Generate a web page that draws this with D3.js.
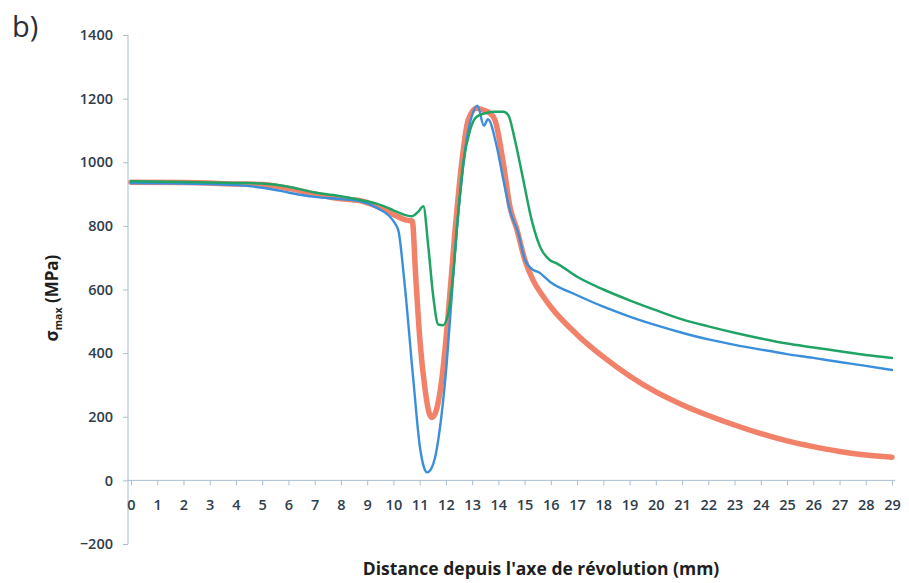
<!DOCTYPE html>
<html>
<head>
<meta charset="utf-8">
<script src="https://cdn.jsdelivr.net/npm/d3@7"></script>
<style>
  html, body { margin: 0; padding: 0; background: #fff; }
  svg { display: block; }
  text { font-family: "Open Sans", "DejaVu Sans", sans-serif; }
</style>
</head>
<body>
<svg id="chart" width="909" height="583"></svg>
<script>
// ---- data ----
const xTicks = d3.range(0, 30);                 // 0 .. 29
const yTicks = [-200, 0, 200, 400, 600, 800, 1000, 1200, 1400];

const redX = [0, 2, 4, 5, 6, 7, 8, 8.7, 9.36, 10.0, 10.5, 10.72, 10.85, 11.01, 11.2, 11.35, 11.46, 11.6, 11.84, 12.09, 12.35, 12.6, 12.85, 13.17, 13.43, 13.68, 13.87, 14.19, 14.44, 14.7, 15.02, 15.33, 15.71, 16, 17, 18, 19, 20, 21, 22, 23, 24, 25, 26, 27, 28, 29];
const redY = [937, 936, 932, 930, 918, 900, 885, 880, 862, 836, 818, 815, 640, 440, 290, 215, 198, 212, 315, 524, 786, 996, 1133, 1170, 1164, 1154, 1133, 996, 860, 790, 690, 628, 578, 545, 458, 388, 328, 278, 238, 204, 174, 147, 124, 106, 91, 80, 73];

const blueX = [0, 2, 4, 5, 6, 6.5, 7, 8, 8.7, 9.36, 10.0, 10.19, 10.4, 10.76, 11.01, 11.15, 11.29, 11.45, 11.59, 11.84, 12.03, 12.22, 12.41, 12.6, 12.79, 12.98, 13.2, 13.45, 13.6, 13.94, 14.19, 14.44, 14.76, 15.02, 15.33, 15.52, 16, 17, 18, 19, 20, 21, 22, 23, 24, 25, 26, 27, 28, 29];
const blueY = [935, 933, 928, 920, 905, 897, 891, 884, 878, 857, 815, 785, 640, 315, 105, 45, 25, 38, 73, 210, 367, 577, 786, 944, 1070, 1143, 1178, 1115, 1135, 1049, 944, 849, 776, 692, 661, 655, 622, 582, 546, 515, 488, 464, 443, 426, 411, 397, 385, 372, 360, 347];

const greenX = [0, 2, 4, 5, 6, 7, 7.7, 8.7, 9.36, 10.0, 10.25, 10.7, 10.95, 11.14, 11.33, 11.52, 11.71, 11.9, 12.09, 12.28, 12.47, 12.66, 12.92, 13.17, 13.49, 13.81, 14.19, 14.38, 14.63, 14.95, 15.27, 15.59, 15.97, 16.22, 17, 18, 19, 20, 21, 22, 23, 24, 25, 26, 27, 28, 29];
const greenY = [940, 938, 935, 933, 923, 905, 897, 882, 870, 849, 840, 830, 845, 862, 734, 577, 490, 488, 525, 651, 840, 996, 1101, 1143, 1154, 1159, 1159, 1148, 1070, 944, 818, 734, 692, 682, 640, 600, 566, 535, 506, 484, 464, 446, 430, 418, 406, 394, 385];

const seriesList = [
  { name: "red",   xs: redX,   ys: redY,   color: "#f06f55", width: 5.5, opacity: 0.88 },
  { name: "blue",  xs: blueX,  ys: blueY,  color: "#3a8fdc", width: 2.4, opacity: 1 },
  { name: "green", xs: greenX, ys: greenY, color: "#1fa465", width: 2.5, opacity: 1 }
];

// ---- layout ----
const svg = d3.select("#chart");
const x = d3.scaleLinear().domain([0, 29]).range([131, 892]);
const y = d3.scaleLinear().domain([-200, 1400]).range([544, 35]);
const axisColor = "#a9bdd1";
const tickText = "#2f3d4b";

// y axis
const yAxisG = svg.append("g").attr("transform", "translate(128,0)")
  .call(d3.axisLeft(y).tickValues(yTicks).tickSize(5).tickPadding(10).tickFormat(d3.format("d")));
yAxisG.select(".domain").attr("stroke", axisColor).attr("d", `M0,${y(1400)}V${y(-200)}`);
yAxisG.selectAll(".tick line").attr("stroke", axisColor);
yAxisG.selectAll(".tick text")
  .attr("fill", tickText).style("font-size", "14.5px").style("font-weight", 600)
  .style("font-family", "'Open Sans', sans-serif");

// x axis at y=0
const xAxisG = svg.append("g").attr("transform", `translate(0,${y(0)})`)
  .call(d3.axisBottom(x).tickValues(xTicks).tickSize(5).tickPadding(14).tickFormat(d3.format("d")));
xAxisG.select(".domain").attr("stroke", axisColor).attr("d", `M128,0H895`);
xAxisG.selectAll(".tick line").attr("stroke", axisColor);
xAxisG.selectAll(".tick text")
  .attr("fill", tickText).style("font-size", "14.5px").style("font-weight", 600)
  .style("font-family", "'Open Sans', sans-serif");

// lines
const line = d3.line().curve(d3.curveMonotoneX);
seriesList.forEach(s => {
  const pts = s.xs.map((v, i) => [x(v), y(s.ys[i])]);
  svg.append("path")
    .attr("d", line(pts))
    .attr("fill", "none")
    .attr("stroke", s.color)
    .attr("stroke-width", s.width)
    .attr("stroke-opacity", s.opacity)
    .attr("stroke-linejoin", "round")
    .attr("stroke-linecap", "round");
});

// axis titles
svg.append("text")
  .attr("x", 541).attr("y", 575)
  .attr("text-anchor", "middle")
  .attr("fill", "#1e1e1e")
  .style("font-size", "17.5px").style("font-weight", 700)
  .text("Distance depuis l'axe de révolution (mm)");

const yt = svg.append("text")
  .attr("transform", "translate(58,298) rotate(-90)")
  .attr("text-anchor", "middle")
  .attr("fill", "#1e1e1e")
  .style("font-size", "17px").style("font-weight", 700);
yt.append("tspan").text("σ");
yt.append("tspan").attr("dy", 4).style("font-size", "10.5px").text("max");
yt.append("tspan").attr("dy", -4).text(" (MPa)");

// panel label
svg.append("text")
  .attr("x", 12).attr("y", 37)
  .attr("fill", "#2a2f36")
  .style("font-size", "29px").style("font-weight", 400)
  .text("b)");
</script>
</body>
</html>
